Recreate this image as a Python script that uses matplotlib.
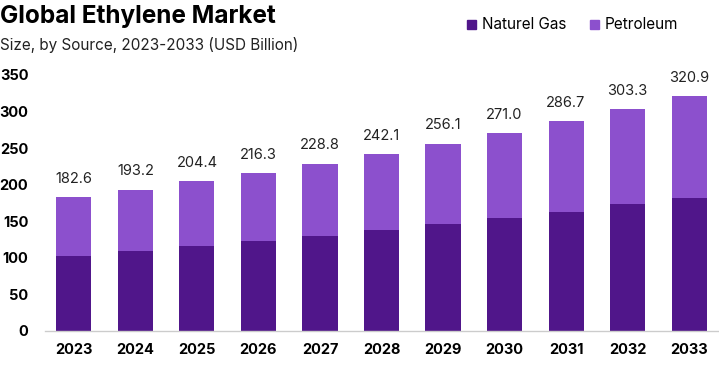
import matplotlib.pyplot as plt
from matplotlib.patches import Rectangle

# Data
years = ['2023', '2024', '2025', '2026', '2027', '2028',
         '2029', '2030', '2031', '2032', '2033']
totals = [182.6, 193.2, 204.4, 216.3, 228.8, 242.1,
          256.1, 271.0, 286.7, 303.3, 320.9]
natural_gas = [102.7, 109.5, 116.0, 122.8, 129.6, 137.8,
               145.6, 153.8, 162.0, 173.0, 182.0]
petroleum = [t - g for t, g in zip(totals, natural_gas)]

DARK = '#50168A'
LIGHT = '#8C50CD'

plt.rcParams['font.family'] = ['Inter', 'DejaVu Sans']


def main():
    fig = plt.figure(figsize=(7.19, 3.66), dpi=100)
    ax = fig.add_axes([45 / 719, 1 - 330.7 / 366, 673 / 719, 255.7 / 366])

    x = range(len(years))
    ax.bar(x, natural_gas, width=0.57, color=DARK, zorder=2)
    ax.bar(x, petroleum, width=0.57, bottom=natural_gas, color=LIGHT, zorder=2)

    # Totals above each bar
    for i, t in enumerate(totals):
        ax.annotate(f'{t:.1f}', (i, t), xytext=(0, 8), textcoords='offset points',
                    ha='center', va='bottom', fontsize=10.5, color='#222222')

    ax.set_xlim(-0.47, 10.47)
    ax.set_ylim(0, 350)
    ax.set_yticks(range(0, 351, 50))
    ax.set_xticks(list(x))
    ax.set_xticklabels(years, fontweight='bold', fontsize=10.5)
    for lbl in ax.get_yticklabels():
        lbl.set_fontweight('bold')
        lbl.set_fontsize(10.5)
    ax.tick_params(axis='x', length=0, pad=9)
    ax.tick_params(axis='y', length=0, pad=12)
    for side in ['top', 'right', 'left']:
        ax.spines[side].set_visible(False)
    ax.spines['bottom'].set_color('#cccccc')
    ax.spines['bottom'].set_linewidth(1)

    # Title and subtitle
    fig.text(0.0, 1 - 16 / 366, 'Global Ethylene Market', fontsize=17.5,
             fontweight='bold', va='center', ha='left')
    fig.text(0.0, 1 - 45 / 366, 'Size, by Source, 2023-2033 (USD Billion)',
             fontsize=11, va='center', ha='left', color='#222222')

    # Legend in the top right
    fig.patches.append(Rectangle((467 / 719, 1 - 29 / 366), 9 / 719, 9 / 366,
                                 transform=fig.transFigure, color=DARK))
    fig.text(482 / 719, 1 - 24.5 / 366, 'Naturel Gas', fontsize=11, va='center')
    fig.patches.append(Rectangle((590 / 719, 1 - 29 / 366), 9 / 719, 9 / 366,
                                 transform=fig.transFigure, color=LIGHT))
    fig.text(605 / 719, 1 - 24.5 / 366, 'Petroleum', fontsize=11, va='center')

    fig.savefig('out.png', dpi=100)


main()
